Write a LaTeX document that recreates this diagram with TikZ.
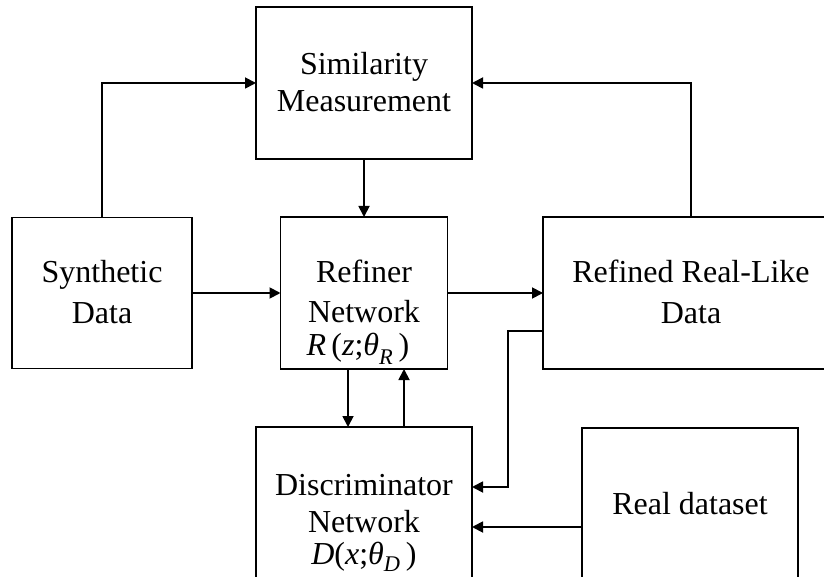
\documentclass[tikz,border=0pt]{standalone}
\usepackage{fontspec}
\setmainfont{Liberation Serif}
\usetikzlibrary{arrows.meta,calc}
\tikzset{
  boxnode/.style={draw, line width=1.8pt, inner sep=0pt, outer sep=0pt, rectangle},
  txt/.style={anchor=base, inner sep=0pt, font=\fontsize{32}{38}\selectfont},
  conn/.style={line width=1.8pt, -{Triangle[length=11pt,width=11pt]}},
  plain/.style={line width=1.8pt}
}
\begin{document}
\begin{tikzpicture}[x=1pt,y=-1pt]
\useasboundingbox (0,0) rectangle (824,577);
\clip (0,0) rectangle (824,577);
\fill[white] (0,0) rectangle (824,577);
% boxes
\node[boxnode, minimum width=216pt, minimum height=152pt] (sim) at (364,83) {};
\node[boxnode, minimum width=180pt, minimum height=151pt] (syn) at (102,293) {};
\node[boxnode, minimum width=167pt, minimum height=152pt] (ref) at (364,293) {};
\node[boxnode, minimum width=296pt, minimum height=152pt] (rfd) at (691,293) {};
\node[boxnode, minimum width=216pt, minimum height=172pt] (dis) at (364,513) {};
\node[boxnode, minimum width=216pt, minimum height=171pt] (real) at (690,513.5) {};
% texts
\node[txt] (simA) at (364,75) {Similarity};
\node[txt] (simB) at (364,112) {Measurement};
\node[txt] (synA) at (102,283) {Synthetic};
\node[txt] (synB) at (102,323) {Data};
\node[txt] (refA) at (364,283) {Refiner};
\node[txt] (refB) at (364,322) {Network};
\node[txt] (refC) at (358,355) {\textit{R}\,(\textit{z};\textit{θ}\raisebox{-3pt}{\textsubscript{\textit{R}}}\,)};
\node[txt] (rfdA) at (691,283) {Refined Real-Like};
\node[txt] (rfdB) at (691,323) {Data};
\node[txt] (disA) at (364,495) {Discriminator};
\node[txt] (disB) at (364,532) {Network};
\node[txt] (disC) at (364,564) {\textit{D}(\textit{x};\textit{θ}\raisebox{-1pt}{\textsubscript{\textit{D}}}\,)};
\node[txt] (realA) at (690,514) {Real dataset};
% connectors
\draw[conn] (syn.north) |- (sim.west);
\draw[conn] (rfd.north) |- (sim.east);
\draw[conn] (sim.south) -- (ref.north);
\draw[conn] (syn.east) -- (ref.west);
\draw[conn] (ref.east) -- (rfd.west);
\coordinate (rdown) at ($(ref.south)+(-16,0)$);
\coordinate (rup) at ($(ref.south)+(40,0)$);
\draw[conn] (rdown) -- (rdown |- dis.north);
\draw[conn] (rup |- dis.north) -- (rup);
\coordinate (rfdout) at ($(rfd.west)+(0,38)$);
\coordinate (bend1) at ($(rfdout)+(-35,0)$);
\coordinate (disin1) at ($(dis.east)+(0,-26)$);
\draw[conn] (rfdout) -- (bend1) -- (bend1 |- disin1) -- (disin1);
\coordinate (realout) at ($(real.west)+(0,13.5)$);
\draw[conn] (realout) -- (realout -| dis.east);
\end{tikzpicture}
\end{document}
